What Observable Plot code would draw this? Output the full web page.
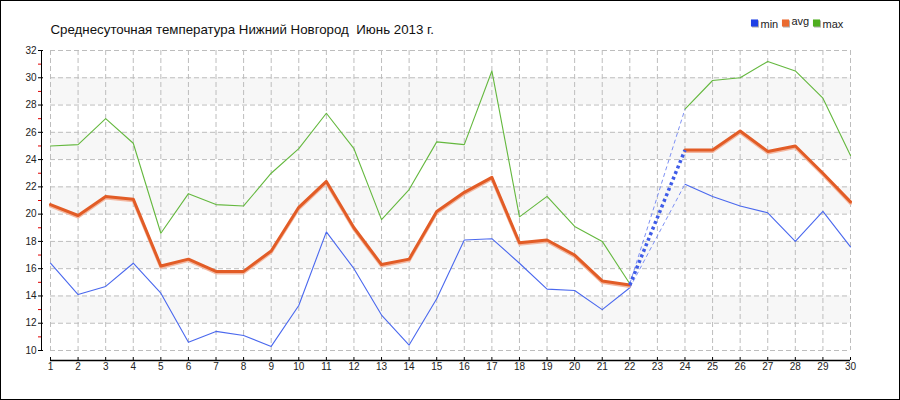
<!DOCTYPE html>
<html>
<head>
<meta charset="utf-8">
<script src="https://cdn.jsdelivr.net/npm/d3@7"></script>
<script src="https://cdn.jsdelivr.net/npm/@observablehq/plot@0.6"></script>
<style>
  html, body { margin: 0; padding: 0; background: #fff; }
  #chart svg { display: block; outline: 1px solid #000; outline-offset: -1px; }
  #chart svg text { white-space: pre; }
</style>
</head>
<body>
<div id="chart"></div>
<script>
const title = "Среднесуточная температура Нижний Новгород  Июнь 2013 г.";
const days = [1,2,3,4,5,6,7,8,9,10,11,12,13,14,15,16,17,18,19,20,21,22,23,24,25,26,27,28,29,30];
const minT = [16.4,14.1,14.7,16.4,14.2,10.6,11.4,11.1,10.3,13.3,18.7,16.0,12.6,10.4,13.8,18.1,18.2,16.4,14.5,14.4,13.0,14.6,null,22.2,21.3,20.6,20.1,18.0,20.2,17.6];
const avgT = [20.7,19.9,21.3,21.1,16.2,16.7,15.8,15.8,17.3,20.5,22.4,19.0,16.3,16.7,20.2,21.6,22.7,17.9,18.1,17.0,15.1,14.8,null,24.7,24.7,26.1,24.6,25.0,23.0,20.9];
const maxT = [25.0,25.1,27.0,25.2,18.6,21.5,20.7,20.6,23.0,24.8,27.4,24.8,19.6,21.8,25.3,25.1,30.5,19.8,21.3,19.1,18.0,14.9,null,27.7,29.8,30.0,31.2,30.5,28.5,24.3];
const seriesNames = ["min", "avg", "max"];
const yMajorTicks = [10,12,14,16,18,20,22,24,26,28,30,32];
const yMinorTicks = [11,13,15,17,19,21,23,25,27,29,31];
const bandStarts = [12,16,20,24,28];

const lineColors = {min: "#4a68ee", avg: "#e25c26", max: "#64b83e"};
const legendColors = {min: "#1e40e6", avg: "#ea6a30", max: "#4eae1e"};
const valuesBy = {min: minT, avg: avgT, max: maxT};

const rowsOf = name => days.map((d, i) => ({day: d, value: valuesBy[name][i], series: name}));

// connector segments across missing days
function gaps(name) {
  const vals = valuesBy[name];
  const out = [];
  vals.forEach((v, i) => {
    if (v == null) {
      let j = i - 1; while (j >= 0 && vals[j] == null) j--;
      let k = i + 1; while (k < vals.length && vals[k] == null) k++;
      if (j >= 0 && k < vals.length) {
        out.push({day: days[j], value: vals[j], seg: i}, {day: days[k], value: vals[k], seg: i});
      }
    }
  });
  return out;
}

const font = "'Liberation Sans', Arial, sans-serif";

const legendMarks = [];
seriesNames.forEach((name, i) => {
  const base = 704 + i * 31;
  legendMarks.push(
    Plot.dot([name], {frameAnchor: "top-left", dx: base + 1, dy: -26.5, symbol: "square", r: 4, fill: "#b0b0b0"}),
    Plot.dot([name], {frameAnchor: "top-left", dx: base, dy: -27.5, symbol: "square", r: 4, fill: legendColors[name]}),
    Plot.text([name], {frameAnchor: "top-left", lineAnchor: "middle", dx: base + 6, dy: name === "avg" ? -29 : -26.5, textAnchor: "start", fontSize: 11, fill: "#222", fontFamily: font})
  );
});

const chart = Plot.plot({
  width: 900,
  height: 400,
  marginTop: 50,
  marginBottom: 50,
  marginLeft: 50,
  marginRight: 50,
  style: {fontFamily: font, fontSize: "10px", color: "#222", background: "#fff", overflow: "visible"},
  x: {domain: [1, 30]},
  y: {domain: [10, 32]},
  marks: [
    Plot.rect(bandStarts, {y1: d => d, y2: d => d + 2, fill: "#f7f7f7"}),
    Plot.gridX(days, {stroke: "#bdbdbd", strokeOpacity: 1, strokeDasharray: "5,3"}),
    Plot.gridY(yMajorTicks, {stroke: "#bdbdbd", strokeOpacity: 1, strokeDasharray: "5,3"}),
    // axis lines
    Plot.ruleX([days[0]], {dx: -9, stroke: "#000"}),
    Plot.ruleY([yMajorTicks[0]], {dy: 10, stroke: "#000", strokeWidth: 1.5}),
    Plot.axisY(yMinorTicks, {anchor: "left", tickSize: 3, dx: -9, stroke: "#e00000", text: null, label: null}),
    Plot.axisY(yMajorTicks, {anchor: "left", tickSize: 5, dx: -7, tickPadding: 2, stroke: "#000", fill: "#222", label: null, fontSize: 10}),
    Plot.axisX(days, {anchor: "bottom", tickSize: 3, dy: 7, tickPadding: 2, stroke: "#000", fill: "#222", label: null, fontSize: 10, tickFormat: d => String(d)}),
    // series
    Plot.line(rowsOf("min"), {x: "day", y: "value", stroke: lineColors.min, strokeWidth: 1.1}),
    Plot.line(rowsOf("max"), {x: "day", y: "value", stroke: lineColors.max, strokeWidth: 1.1}),
    Plot.line(rowsOf("avg"), {x: "day", y: "value", stroke: "#f3b7a0", strokeWidth: 3, dy: 1.5}),
    Plot.line(rowsOf("avg"), {x: "day", y: "value", stroke: lineColors.avg, strokeWidth: 3}),
    // gap connectors
    Plot.line(gaps("max"), {x: "day", y: "value", z: "seg", stroke: "#7d90f4", strokeWidth: 1, strokeDasharray: "4,3", strokeLinecap: "butt"}),
    Plot.line(gaps("min"), {x: "day", y: "value", z: "seg", stroke: "#7d90f4", strokeWidth: 1, strokeDasharray: "4,3", strokeLinecap: "butt"}),
    Plot.line(gaps("avg"), {x: "day", y: "value", z: "seg", stroke: "#3f5ce8", strokeWidth: 3.5, strokeDasharray: "3,3", strokeLinecap: "butt"}),
    // title & legend
    Plot.text([title], {frameAnchor: "top-left", lineAnchor: "middle", dy: -21, textAnchor: "start", fontSize: 13.3, fill: "#111", fontFamily: font}),
    ...legendMarks
  ]
});

document.getElementById("chart").appendChild(chart);
</script>
</body>
</html>
